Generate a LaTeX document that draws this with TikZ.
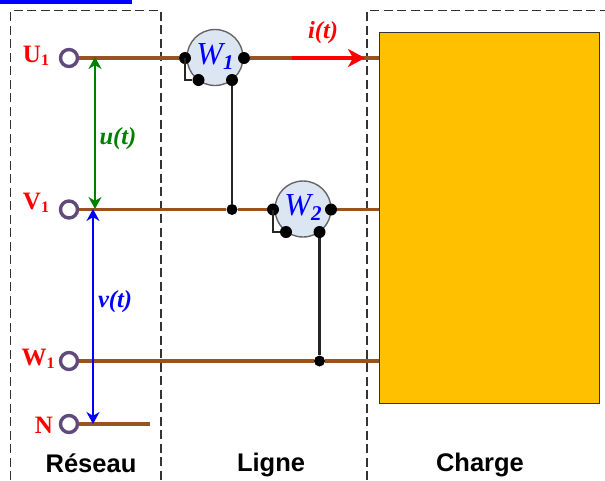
\documentclass[tikz,border=0pt]{standalone}
\usepackage{fontspec}
\setmainfont{Liberation Serif}
\newfontfamily\lblsans{Liberation Sans}
\usetikzlibrary{arrows.meta}
\definecolor{wire}{RGB}{152,84,32}
\definecolor{term}{RGB}{96,74,123}
\definecolor{wfill}{RGB}{220,230,242}
\definecolor{load}{RGB}{255,192,0}
\definecolor{dgreen}{RGB}{0,128,0}
\tikzset{
  wirel/.style={draw=wire,line width=3.4pt},
  blk/.style={draw=black!85,line width=2.8pt},
  dashbox/.style={draw=black!80,line width=1.3pt,dash pattern=on 9pt off 4.5pt},
  terminal/.style={circle,draw=term,line width=3.4pt,fill=white,minimum size=17pt,inner sep=0pt},
  dotn/.style={circle,fill=black,minimum size=12pt,inner sep=0pt},
  meter/.style={circle,draw=black!60,line width=1.4pt,fill=wfill,minimum size=56pt,inner sep=0pt},
  metertext/.style={text=blue,font=\fontsize{32}{32}\selectfont\itshape,inner sep=0pt},
  tlabel/.style={text=red,font=\fontsize{25}{25}\selectfont\bfseries,inner sep=0pt},
  zone/.style={font=\lblsans\bfseries\fontsize{25.5}{25.5}\selectfont,inner sep=0pt},
  vlabel/.style={font=\fontsize{24.5}{24.5}\selectfont\bfseries\itshape,inner sep=0pt},
  varrow/.style={line width=2.8pt,{Stealth[length=12pt,width=13pt]}-{Stealth[length=12pt,width=13pt]}}
}
\begin{document}
\begin{tikzpicture}[x=1pt,y=-1pt]
\useasboundingbox (0,0) rectangle (605,480);
\fill[blue] (0,0) rectangle (132,4);
% zone boundaries
\draw[dashbox] (10.5,480) -- (10.5,10.5) -- (161,10.5) -- (161,480);
\draw[dashbox] (367,480) -- (367,10.5) -- (605,10.5);
% load
\node[draw=black!80,line width=1.3pt,fill=load,minimum width=220pt,minimum height=371pt,inner sep=0pt,anchor=north west] (L) at (379,32) {};
\coordinate (L1) at (379,58);
\coordinate (L2) at (379,209.5);
\coordinate (L3) at (379,361);
\coordinate (Nend) at (150,424);
% terminals
\node[terminal] (U) at (69,58) {};
\node[terminal] (V) at (69,209.5) {};
\node[terminal] (W) at (69,361) {};
\node[terminal] (N) at (69,424) {};
% meters
\node[meter] (M1) at (215,57.5) {};
\node[meter] (M2) at (303,209) {};
\node[metertext] (M1t) at (215,57) {W\raisebox{-5pt}{\fontsize{21}{21}\selectfont\bfseries 1}};
\node[metertext] (M2t) at (303,208) {W\raisebox{-5pt}{\fontsize{21}{21}\selectfont\bfseries 2}};
% meter contacts
\node[dotn] (a1) at (185,58) {};
\node[dotn] (b1) at (244,58) {};
\node[dotn] (c1) at (198.5,80) {};
\node[dotn] (d1) at (232,80) {};
\node[dotn] (a2) at (273,209.5) {};
\node[dotn] (b2) at (331,209.5) {};
\node[dotn] (c2) at (286,232) {};
\node[dotn] (d2) at (319.5,232) {};
\node[dotn,minimum size=11pt] (j1) at (232,209.5) {};
\node[dotn,minimum size=11pt] (j2) at (319.5,361) {};
% wires
\draw[wirel] (U) -- (a1);
\draw[wirel] (b1) -- (L1);
\draw[wirel] (V) -- (j1) -- (a2);
\draw[wirel] (b2) -- (L2);
\draw[wirel] (W) -- (j2) -- (L3);
\draw[wirel] (N) -- (Nend);
\draw[blk] (a1.center) -- (a1.center |- c1.center) -- (c1);
\draw[blk] (a2.center) -- (a2.center |- c2.center) -- (c2);
\draw[blk] (d1) -- (j1);
\draw[blk] (d2) -- (j2);
% voltage and current arrows
\coordinate (ua) at (95,57);
\coordinate (ub) at (95,209);
\coordinate (va) at (93,209);
\coordinate (vb) at (93,424);
\coordinate (ia) at (292,58);
\coordinate (ib) at (365,58);
\draw[varrow,draw=dgreen,color=dgreen] (ua) -- (ub);
\draw[varrow,draw=blue,color=blue] (va) -- (vb);
\draw[draw=red,line width=3.4pt,-{Stealth[length=17pt,width=18pt,inset=5pt]},color=red] (ia) -- (ib);
% labels
\node[tlabel] (tU) at (36,56) {U\raisebox{-3pt}{\fontsize{16}{16}\selectfont 1}};
\node[tlabel] (tV) at (36,203) {V\raisebox{-3pt}{\fontsize{16}{16}\selectfont 1}};
\node[tlabel] (tW) at (38,359) {W\raisebox{-3pt}{\fontsize{16}{16}\selectfont 1}};
\node[tlabel] (tN) at (44,425) {N};
\node[vlabel,text=dgreen] (lu) at (118,139) {u(t)};
\node[vlabel,text=blue] (lv) at (115,302) {v(t)};
\node[vlabel,text=red] (li) at (323,33) {i(t)};
\node[zone] (z1) at (91,463) {Réseau};
\node[zone] (z2) at (271,465) {Ligne};
\node[zone] (z3) at (480,465) {Charge};
\end{tikzpicture}
\end{document}
